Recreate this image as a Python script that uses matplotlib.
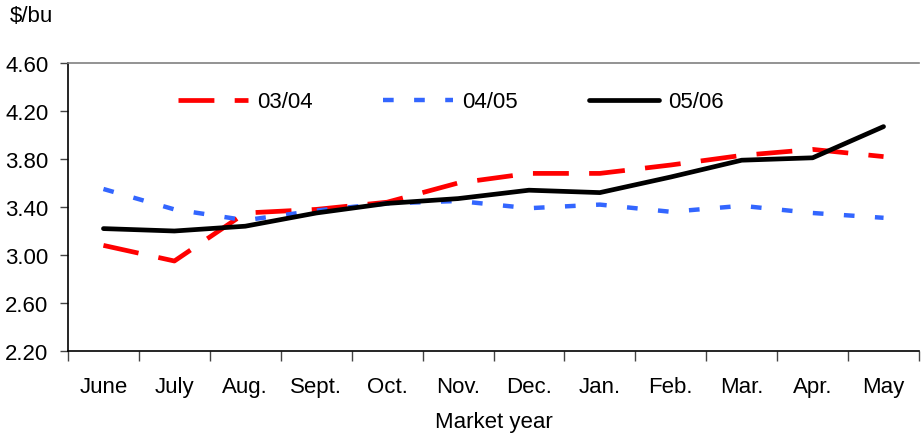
import matplotlib.pyplot as plt
import numpy as np

months = ['June', 'July', 'Aug.', 'Sept.', 'Oct.', 'Nov.', 'Dec.', 'Jan.',
          'Feb.', 'Mar.', 'Apr.', 'May']
price_0304 = [3.08, 2.95, 3.35, 3.38, 3.44, 3.60, 3.68, 3.68, 3.75, 3.83, 3.88, 3.82]
price_0405 = [3.55, 3.38, 3.29, 3.37, 3.43, 3.45, 3.39, 3.42, 3.36, 3.41, 3.35, 3.31]
price_0506 = [3.22, 3.20, 3.24, 3.35, 3.43, 3.47, 3.54, 3.52, 3.65, 3.79, 3.81, 4.07]
yticks = [2.20, 2.60, 3.00, 3.40, 3.80, 4.20, 4.60]

plt.rcParams['font.family'] = ['Liberation Sans', 'DejaVu Sans']
fs = 16

fig = plt.figure(figsize=(9.21, 4.39), dpi=100)
ax = fig.add_axes([68 / 921, 87 / 439, 851 / 921, 288 / 439])

x = np.arange(len(months))
ax.plot(x, price_0304, color='#ff0000', lw=3.4, dashes=(7.6, 4.3), label='03/04')
ax.plot(x, price_0405, color='#3366ff', lw=3.2, dashes=(2.4, 4.6), label='04/05')
ax.plot(x, price_0506, color='black', lw=3.4, solid_capstyle='round',
        solid_joinstyle='round', label='05/06')

ax.set_xlim(-0.5, len(months) - 0.5)
ax.set_ylim(2.2, 4.6)
ax.set_yticks(yticks)
ax.set_yticklabels(['%.2f' % v for v in yticks])
ax.set_xticks(x)
ax.set_xticklabels(months)
ax.set_xticks(np.arange(-0.5, len(months)), minor=True)
ax.tick_params(axis='x', which='major', length=0, pad=18, labelsize=fs)
ax.tick_params(axis='x', which='minor', length=7, width=1, color='#444444')
ax.tick_params(axis='y', length=6, width=1, color='#444444', labelsize=fs, pad=8)

ax.spines['right'].set_visible(False)
ax.spines['top'].set_color('#808080')
ax.spines['top'].set_linewidth(1.2)
ax.spines['left'].set_linewidth(1.2)
ax.spines['bottom'].set_linewidth(1.2)

ax.set_xlabel('Market year', fontsize=fs, labelpad=10)
fig.text(10 / 921, 1 - 17 / 439, '$/bu', fontsize=fs, va='center', ha='left')

ax.legend(loc='center left', bbox_to_anchor=(0.129, 0.865), ncol=3, frameon=False,
          fontsize=fs, handlelength=3.15, columnspacing=3.2, handletextpad=0.4,
          borderaxespad=0, borderpad=0)

fig.savefig('out.png', dpi=100)
